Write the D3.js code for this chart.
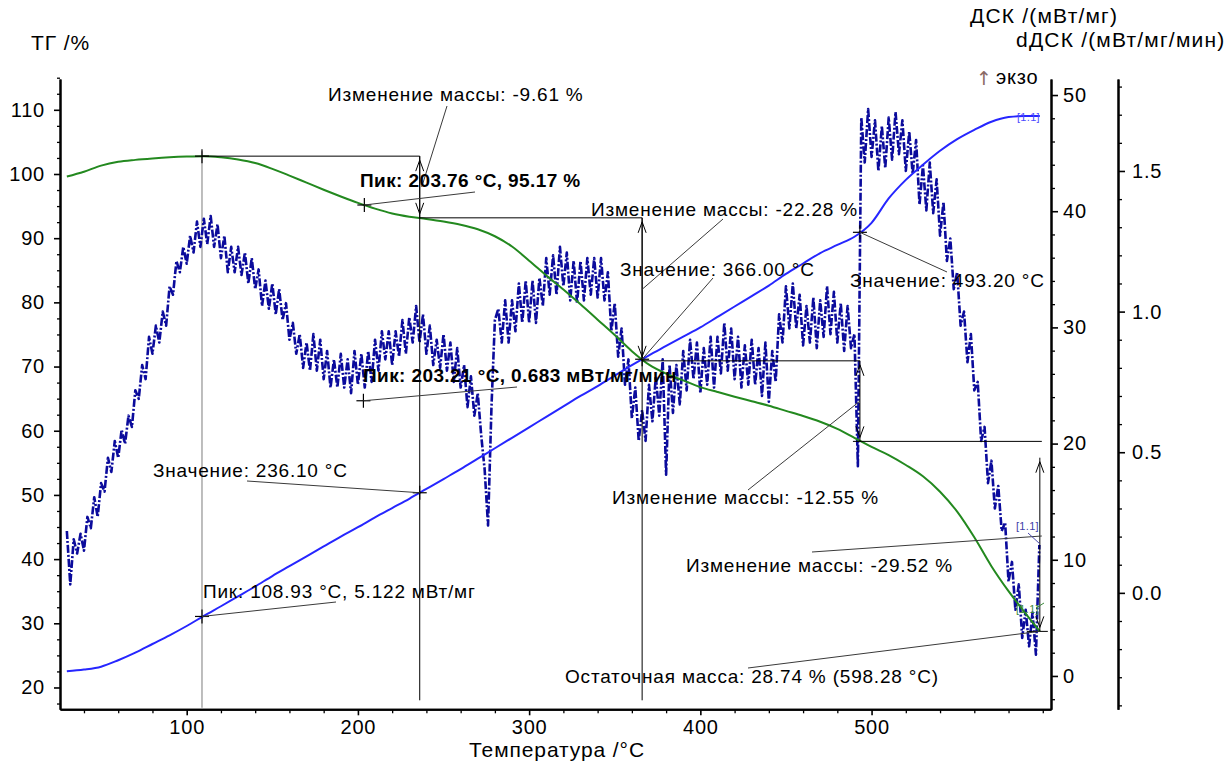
<!DOCTYPE html>
<html>
<head>
<meta charset="utf-8">
<script src="https://cdn.jsdelivr.net/npm/d3@7"></script>
<style>
  html, body { margin: 0; padding: 0; background: #ffffff; }
  svg { display: block; font-family: "Liberation Sans", Arial, sans-serif; }
</style>
</head>
<body>
<svg id="chart" width="1231" height="762"></svg>
<script>
// ---- Data ---------------------------------------------------------------
// Temperatures (°C) at which the TG and DSC curves are tabulated
const curveTemps = [30,40,50,60,70,80,90,100,110,120,
  130,140,150,160,170,180,190,200,210,220,
  230,240,250,260,270,280,290,300,310,320,
  330,340,350,360,370,380,390,400,410,420,
  430,440,450,460,470,480,490,500,510,520,
  530,540,550,560,570,580,590,598.28];

// TG, % of initial mass
const tgValues = [99.6,100.35,101.3,101.9,102.2,102.42,102.6,102.72,102.78,102.6,
  102.25,101.7,100.8,99.75,98.65,97.55,96.5,95.5,94.6,93.85,
  93.35,93.0,92.6,92.1,91.4,90.3,88.7,86.5,84.2,82.0,
  79.7,77.3,74.9,72.4,70.3,68.9,67.85,66.8,66.04,65.3,
  64.6,63.9,63.1,62.3,61.4,60.3,58.9,57.47,56.2,54.66,
  52.9,50.5,47.4,43.4,38.9,35.0,31.5,28.74];

// DSC, mW/mg
const dscValues = [0.40,0.55,0.80,1.35,2.0,2.75,3.5,4.3,5.17,6.0,
  6.85,7.7,8.6,9.45,10.3,11.15,12.0,12.8,13.65,14.45,
  15.25,16.1,16.95,17.8,18.7,19.6,20.5,21.4,22.3,23.2,
  24.1,24.95,25.85,26.75,27.6,28.4,29.2,30.0,30.9,31.8,
  32.7,33.6,34.6,35.5,36.4,37.1,37.8,39.0,41.1,42.7,
  44.0,45.2,46.2,47.0,47.7,48.1,48.2,48.2];

// dDSC, mW/mg/min, sampled every 2 °C from 30 to 598 °C
const dDscStart = 30, dDscStep = 2;
const dDscValues = [
  // 30 - 100 °C
  0.22,0.03,0.19,0.14,0.21,0.15,0.27,0.23,0.34,0.27,
  0.39,0.36,0.48,0.43,0.54,0.48,0.58,0.53,0.63,0.59,
  0.72,0.69,0.81,0.76,0.91,0.85,0.95,0.89,1.00,0.95,
  1.09,1.06,1.18,1.14,1.23,1.17,
  // 102 - 170 °C
  1.27,1.21,1.32,1.23,1.33,1.24,1.34,1.23,1.31,1.19,
  1.27,1.14,1.23,1.14,1.23,1.13,1.21,1.10,1.19,1.08,
  1.15,1.02,1.11,1.01,1.10,0.99,1.08,0.97,1.03,0.90,
  0.96,0.85,0.92,0.80,0.89,
  // 172 - 270 °C
  0.79,0.92,0.79,0.90,0.76,0.86,0.73,0.83,0.73,0.85,
  0.73,0.83,0.71,0.86,0.74,0.85,0.73,0.86,0.75,0.90,
  0.79,0.93,0.83,0.93,0.81,0.93,0.84,0.97,0.85,0.98,
  0.89,1.02,0.89,0.99,0.85,0.95,0.81,0.90,0.80,0.92,
  0.79,0.89,0.75,0.87,0.73,0.81,0.66,0.77,0.63,0.71,
  // 272 - 280 °C
  0.56,0.44,0.24,0.66,0.97,
  // 282 - 366 °C
  1.01,0.89,1.04,0.89,1.04,0.93,1.10,0.96,1.11,0.96,
  1.11,0.96,1.12,1.02,1.19,1.06,1.20,1.06,1.23,1.09,
  1.21,1.04,1.18,1.03,1.18,1.04,1.19,1.06,1.19,1.05,
  1.19,1.04,1.14,0.93,1.03,0.84,0.94,0.74,0.83,0.62,
  0.73,0.54,0.65,
  // 368 - 492 °C
  0.54,0.74,0.61,0.77,0.63,0.83,0.42,0.81,0.64,0.81,
  0.67,0.86,0.72,0.90,0.76,0.89,0.71,0.87,0.74,0.91,
  0.73,0.91,0.78,0.96,0.79,0.94,0.76,0.91,0.73,0.88,
  0.74,0.90,0.74,0.87,0.70,0.89,0.68,0.86,0.75,0.99,
  0.89,1.09,0.94,1.10,0.94,1.06,0.88,1.02,0.89,1.05,
  0.87,1.04,0.91,1.09,0.92,1.07,0.89,1.03,0.86,1.02,
  0.87,0.92,0.45,
  // 494 - 598 °C
  1.69,1.53,1.72,1.55,1.68,1.50,1.66,1.51,1.69,1.54,
  1.71,1.56,1.68,1.50,1.64,1.49,1.61,1.38,1.52,1.36,
  1.53,1.35,1.47,1.27,1.39,1.18,1.26,1.08,1.14,0.95,
  1.00,0.82,0.92,0.72,0.75,0.54,0.59,0.39,0.47,0.30,
  0.38,0.22,0.25,0.04,0.11,-0.06,0.03,-0.16,-0.06,-0.19,
  -0.07,-0.22,0.17];

// Axis ticks
const xTicks = [100, 200, 300, 400, 500];
const tgTicks = [20, 30, 40, 50, 60, 70, 80, 90, 100, 110];
const dscTicks = [0, 10, 20, 30, 40, 50];
const dDscTicks = [0.0, 0.5, 1.0, 1.5];

// Evaluated events
const tgPeak = { t: 108.93, tg: 102.78 };
const massSteps = [            // temperature and TG level after each step
  { t: 108.93, level: 102.78 },
  { t: 236.10, level: 93.17 },   // -9.61 %
  { t: 366.00, level: 70.89 },   // -22.28 %
  { t: 493.20, level: 58.34 },   // -12.55 %
  { t: 598.28, level: 28.82 }    // -29.52 %
];
const residual = { t: 598.28, tg: 28.74 };
const peakTG = { t: 203.76, tg: 95.17 };
const peakDSC = { t: 108.93, dsc: 5.122 };
const peakDDSC = { t: 203.21, ddsc: 0.683 };
const valueTemps = [236.10, 366.00, 493.20];

// ---- Layout --------------------------------------------------------------
const L = 60, R = 1051, T = 79, B = 709.3, R2 = 1118;
const svg = d3.select("#chart");

const x = d3.scaleLinear().domain([26, 604.8]).range([L, R]);
const yTG = d3.scaleLinear().domain([16.6, 114.8]).range([B, T]);
const yDSC = d3.scaleLinear().domain([-2.87, 51.38]).range([B, T]);
const yDD = d3.scaleLinear().domain([-0.414, 1.827]).range([B, T]);

const INK = "#000000";
const tickFont = { size: 20, ls: 0.8 };

function styleAxis(g, major) {
  g.select(".domain").attr("stroke", INK).attr("stroke-width", 2);
  g.selectAll(".tick line").attr("stroke", INK).attr("stroke-width", major ? 1.6 : 1.3);
  g.selectAll(".tick text")
    .attr("fill", INK)
    .style("font-size", tickFont.size + "px")
    .style("letter-spacing", tickFont.ls + "px")
    .style("font-family", '"Liberation Sans", Arial, sans-serif');
}

// minor tick helper
function minorVals(lo, hi, step, majors) {
  const out = [];
  const n = Math.round((hi - lo) / step);
  for (let i = 0; i <= n; i++) {
    const v = +(lo + i * step).toFixed(4);
    if (!majors.some(m => Math.abs(m - v) < 1e-6)) out.push(v);
  }
  return out;
}

// bottom axis
svg.append("g").attr("transform", `translate(0,${B})`)
  .call(d3.axisBottom(x).tickValues(minorVals(40, 600, 20, xTicks)).tickSize(4).tickSizeOuter(0).tickFormat(""))
  .call(g => styleAxis(g, false));
svg.append("g").attr("transform", `translate(0,${B})`)
  .call(d3.axisBottom(x).tickValues(xTicks).tickSize(6).tickSizeOuter(0).tickPadding(5))
  .call(g => styleAxis(g, true));

// left TG axis
svg.append("g").attr("transform", `translate(${L},0)`)
  .call(d3.axisLeft(yTG).tickValues(minorVals(17.5, 115, 2.5, tgTicks)).tickSize(3).tickSizeOuter(0).tickFormat(""))
  .call(g => styleAxis(g, false));
svg.append("g").attr("transform", `translate(${L},0)`)
  .call(d3.axisLeft(yTG).tickValues(tgTicks).tickSize(6).tickSizeOuter(0).tickPadding(9))
  .call(g => styleAxis(g, true));

// right DSC axis
svg.append("g").attr("transform", `translate(${R},0)`)
  .call(d3.axisRight(yDSC).tickValues(minorVals(-2, 50, 2, dscTicks)).tickSize(4).tickSizeOuter(0).tickFormat(""))
  .call(g => styleAxis(g, false));
svg.append("g").attr("transform", `translate(${R},0)`)
  .call(d3.axisRight(yDSC).tickValues(dscTicks).tickSize(7).tickSizeOuter(0).tickPadding(5))
  .call(g => styleAxis(g, true));

// outer dDSC axis
svg.append("g").attr("transform", `translate(${R2},0)`)
  .call(d3.axisRight(yDD).tickValues(minorVals(-0.4, 1.8, 0.1, dDscTicks)).tickSize(4).tickSizeOuter(0).tickFormat(""))
  .call(g => styleAxis(g, false));
svg.append("g").attr("transform", `translate(${R2},0)`)
  .call(d3.axisRight(yDD).tickValues(dDscTicks).tickSize(7).tickSizeOuter(0).tickPadding(7).tickFormat(d3.format(".1f")))
  .call(g => styleAxis(g, true));

// axis titles
function label(txt, px, py, opt = {}) {
  return svg.append("text")
    .attr("x", px).attr("y", py)
    .attr("text-anchor", opt.anchor || "start")
    .attr("fill", opt.color || INK)
    .style("font-size", (opt.size || 19) + "px")
    .style("font-weight", opt.bold ? "bold" : "normal")
    .style("letter-spacing", (opt.ls != null ? opt.ls : 0.8) + "px")
    .text(txt);
}
label("ТГ /%", 31, 50, { size: 21, ls: 0.9 });
label("ДСК /(мВт/мг)", 970, 23, { size: 21, ls: 1.2 });
label("dДСК /(мВт/мг/мин)", 1016, 47, { size: 21, ls: 1.2 });
svg.append("text").attr("x", 976).attr("y", 85)
  .attr("fill", "#8a6a66")
  .style("font-family", '"DejaVu Sans", sans-serif')
  .style("font-size", "19px")
  .text("↑");
label("экзо", 996, 84, { size: 20, ls: 0.8 });
label("Температура /°C", 557, 757, { size: 21, ls: 0.9, anchor: "middle" });

// ---- Curves --------------------------------------------------------------
svg.append("clipPath").attr("id", "plotClip")
  .append("rect").attr("x", L).attr("y", T).attr("width", R - L).attr("height", B - T);
const plot = svg.append("g").attr("clip-path", "url(#plotClip)");

const tgRows = curveTemps.map((t, i) => ({ t, v: tgValues[i] }));
const dscRows = curveTemps.map((t, i) => ({ t, v: dscValues[i] }));
const ddRows = dDscValues.map((v, i) => ({ t: dDscStart + i * dDscStep, v }));

// reference guide at the first DSC peak (drawn underneath the curves)
plot.append("line")
  .attr("x1", x(tgPeak.t)).attr("x2", x(tgPeak.t))
  .attr("y1", yTG(tgPeak.tg) - 5).attr("y2", B - 1.5)
  .attr("stroke", "#9a9a9a").attr("stroke-width", 1.3);

plot.append("path").datum(ddRows)
  .attr("fill", "none").attr("stroke", "#0b0b9c").attr("stroke-width", 2.6)
  .attr("stroke-dasharray", "8,2,2,2").attr("stroke-linejoin", "round")
  .attr("d", d3.line().x(d => x(d.t)).y(d => yDD(d.v)));

plot.append("path").datum(dscRows)
  .attr("fill", "none").attr("stroke", "#2626ff").attr("stroke-width", 2)
  .attr("d", d3.line().curve(d3.curveMonotoneX).x(d => x(d.t)).y(d => yDSC(d.v)));

plot.append("path").datum(tgRows)
  .attr("fill", "none").attr("stroke", "#23891f").attr("stroke-width", 2)
  .attr("d", d3.line().curve(d3.curveMonotoneX).x(d => x(d.t)).y(d => yTG(d.v)));

// ---- Annotations -------------------------------------------------------
const ann = svg.append("g").attr("fill", "none");

function seg(x1, y1, x2, y2, color = "#000", w = 1) {
  ann.append("line").attr("x1", x1).attr("y1", y1).attr("x2", x2).attr("y2", y2)
    .attr("stroke", color).attr("stroke-width", w);
}
function plus(px, py, r = 7) {
  seg(px - r, py, px + r, py, "#000", 1.2);
  seg(px, py - r, px, py + r, "#000", 1.2);
}
function head(px, tipY, dir) { // dir -1: points up, +1: points down
  ann.append("path")
    .attr("d", `M${px - 4},${tipY - dir * 11} L${px},${tipY} L${px + 4},${tipY - dir * 11}`)
    .attr("stroke", "#000").attr("stroke-width", 1);
}
function doubleArrow(px, yTop, yBot) {
  seg(px, yTop, px, yBot);
  head(px, yTop + 4, -1);
  head(px, yBot - 4, 1);
}
function dscAt(t) {
  const i = Math.max(1, d3.bisectRight(curveTemps, t));
  const t0 = curveTemps[i - 1], t1 = curveTemps[i];
  const k = (t - t0) / (t1 - t0);
  return dscValues[i - 1] + k * (dscValues[i] - dscValues[i - 1]);
}

// mass-change construction: plateaus and step arrows
const sx = massSteps.map(s => x(s.t));
const sy = massSteps.map(s => yTG(s.level));
seg(sx[0], sy[0], sx[1], sy[0]);
seg(sx[1], sy[0], sx[1], B - 9);
doubleArrow(sx[1], sy[0], sy[1]);
seg(sx[1], sy[1], sx[2], sy[1]);
seg(sx[2], sy[1], sx[2], B - 9);
doubleArrow(sx[2], sy[1], sy[2]);
seg(sx[2], sy[2], sx[3], sy[2]);
doubleArrow(sx[3], sy[2], sy[3]);
seg(sx[3] - 7, sy[3], sx[4] + 2, sy[3]);
doubleArrow(sx[4], yTG(55.8), yTG(residual.tg));
seg(x(residual.t) - 13, yTG(residual.tg), x(residual.t) + 8, yTG(residual.tg));

// markers
plus(x(tgPeak.t), yTG(tgPeak.tg));
plus(x(peakTG.t), yTG(peakTG.tg));
plus(x(peakDSC.t), yDSC(peakDSC.dsc));
plus(x(peakDDSC.t), yDD(peakDDSC.ddsc));
const valuePts = valueTemps.map(t => [x(t), yDSC(dscAt(t))]);
valuePts.forEach(p => plus(p[0], p[1]));

// leader lines
const LC = "#3a3a3a";
seg(447, 106, sx[1] + 2, (sy[0] + sy[1]) / 2, LC);
seg(x(peakTG.t), yTG(peakTG.tg), 475, 192, LC);
seg(723, 219, sx[2], (sy[1] + sy[2]) / 2, LC);
seg(713, 278, valuePts[1][0], valuePts[1][1], LC);
seg(valuePts[2][0], valuePts[2][1], 947, 272, LC);
seg(x(peakDDSC.t), yDD(peakDDSC.ddsc), 517, 387, LC);
seg(247, 481, valuePts[0][0], valuePts[0][1], LC);
seg(748, 490, sx[3], (sy[2] + sy[3]) / 2, LC);
seg(812, 552, sx[4] + 2, 536, LC);
seg(x(peakDSC.t), yDSC(peakDSC.dsc), 336, 602, LC);
seg(748, 668, x(residual.t), yTG(residual.tg), LC);
seg(1028, 533, 1040, 544, "#4b4bb0");
seg(1036, 608, 1044, 603, "#3c8a3c");

// annotation texts
label("Изменение массы: -9.61 %", 328, 101);
label("Пик: 203.76 °C, 95.17 %", 360, 187, { bold: true, ls: 0.4 });
label("Изменение массы: -22.28 %", 591, 216);
label("Значение: 366.00 °C", 620, 276);
label("Значение: 493.20 °C", 850, 287);
label("Пик: 203.21 °C, 0.683 мВт/мг/мин", 363, 382, { bold: true, ls: 0.4 });
label("Значение: 236.10 °C", 153, 477);
label("Изменение массы: -12.55 %", 612, 504);
label("Изменение массы: -29.52 %", 686, 572);
label("Пик: 108.93 °C, 5.122 мВт/мг", 203, 598);
label("Остаточная масса: 28.74 % (598.28 °C)", 565, 683);
label("[1.1]", 1017, 121, { size: 11, ls: 0.3, color: "#4a4aff" });
label("[1.1]", 1016, 530, { size: 11, ls: 0.3, color: "#4040a8" });
label("[1.1]", 1016, 613, { size: 11, ls: 0.3, color: "#3c8a3c" });
</script>
</body>
</html>
